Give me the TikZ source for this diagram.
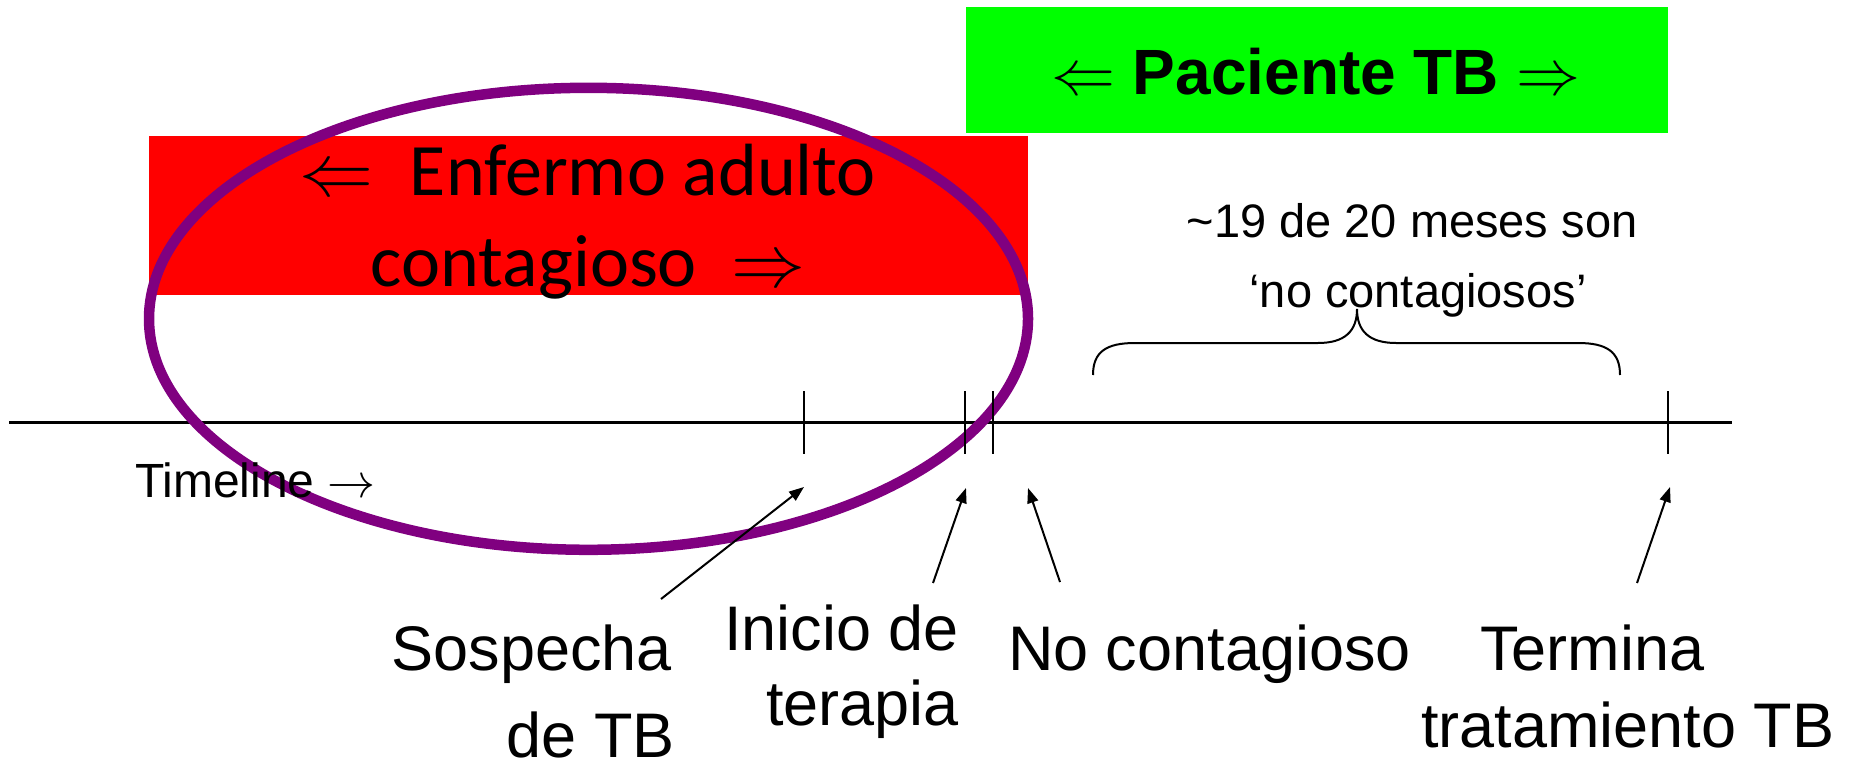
\RequirePackage{fix-cm}
\documentclass[tikz,border=0pt]{standalone}
\usepackage{fontspec}
\setmainfont{Liberation Sans}
\newfontfamily\calib{Carlito}
\usetikzlibrary{arrows.meta}
\definecolor{boxgreen}{RGB}{0,255,0}
\definecolor{boxred}{RGB}{255,0,0}
\definecolor{ringpurple}{RGB}{128,0,128}
\begin{document}
\begin{tikzpicture}[x=1pt, y=-1pt,
  every node/.style={inner sep=0pt, outer sep=0pt},
  lbl/.style={font=\fontsize{63}{75}\selectfont},
  conn/.style={line width=2pt, -{Triangle[length=15pt,width=11pt]}},
  tickline/.style={line width=2pt},
  bracepath/.style={line width=2pt}]
\useasboundingbox (0,0) rectangle (1851,767);
% boxes
\node[fill=boxred, minimum width=879pt, minimum height=159pt, anchor=north west] (redbox) at (149,136) {};
\node[fill=boxgreen, minimum width=702pt, minimum height=126pt, anchor=north west] (pacbox) at (966,7) {};
% timeline
\coordinate (tl0) at (9,422.5);
\coordinate (tl1) at (1732,422.5);
\draw[line width=2.2pt] (tl0) -- (tl1);
% ring
\draw[ringpurple, line width=10.5pt] (588.5,318.8) ellipse [x radius=439.5pt, y radius=231pt];
% ticks
\coordinate (k1) at (804,422.5);
\coordinate (k2) at (965,422.5);
\coordinate (k3) at (993,422.5);
\coordinate (k4) at (1668,422.5);
\foreach \k in {k1,k2,k3,k4}
  \draw[tickline] ([yshift=31.5pt]\k) -- ([yshift=-31.5pt]\k);
% arrow ends
\coordinate (sospT) at (661,599);  \coordinate (sospH) at (804,487);
\coordinate (iniT) at (933,583);   \coordinate (iniH) at (966,488);
\coordinate (nocT) at (1060,582);  \coordinate (nocH) at (1028,488);
\coordinate (termT) at (1637,583); \coordinate (termH) at (1670,487);
\draw[conn] (sospT) -- (sospH);
\draw[conn] (iniT) -- (iniH);
\draw[conn] (nocT) -- (nocH);
\draw[conn] (termT) -- (termH);
% brace
\draw[bracepath] (1093,375) .. controls (1093,352) and (1106,343) .. (1135,343)
  -- (1318,343) .. controls (1345,343) and (1357,331) .. (1357,309)
  .. controls (1357,331) and (1369,343) .. (1396,343)
  -- (1578,343) .. controls (1607,343) and (1620,352) .. (1620,375);
% texts
\node[anchor=base, font=\bfseries\fontsize{64}{76}\selectfont] (pactext) at (1316,95) {$\Leftarrow$ Paciente TB $\Rightarrow$};
\node[anchor=base, font=\calib\fontsize{74}{88}\selectfont] (enf1) at (588,196) {$\Leftarrow$\hspace{36pt}Enfermo adulto};
\node[anchor=base, font=\calib\fontsize{74}{88}\selectfont] (enf2) at (588,286) {contagioso\hspace{34pt}$\Rightarrow$};
\node[anchor=base, font=\fontsize{47}{56}\selectfont] (m1) at (1412,238) {\textasciitilde 19 de 20 meses son};
\node[anchor=base, font=\fontsize{47}{56}\selectfont] (m2) at (1418,307) {`no contagiosos'};
\node[anchor=base west, font=\fontsize{48}{57}\selectfont] (tlab) at (135,497) {Timeline $\rightarrow$};
\node[lbl, anchor=base east] (sosp1) at (672,670) {Sospecha};
\node[lbl, anchor=base east] (sosp2) at (675,757) {de TB};
\node[lbl, anchor=base east] (ini1) at (959,650) {Inicio de};
\node[lbl, anchor=base east] (ini2) at (959,725) {terapia};
\node[lbl, anchor=base west] (noc) at (1008,670) {No contagioso};
\node[lbl, anchor=base west] (term1) at (1480,670) {Termina};
\node[lbl, anchor=base west] (term2) at (1421,747) {tratamiento TB};
\end{tikzpicture}
\end{document}
